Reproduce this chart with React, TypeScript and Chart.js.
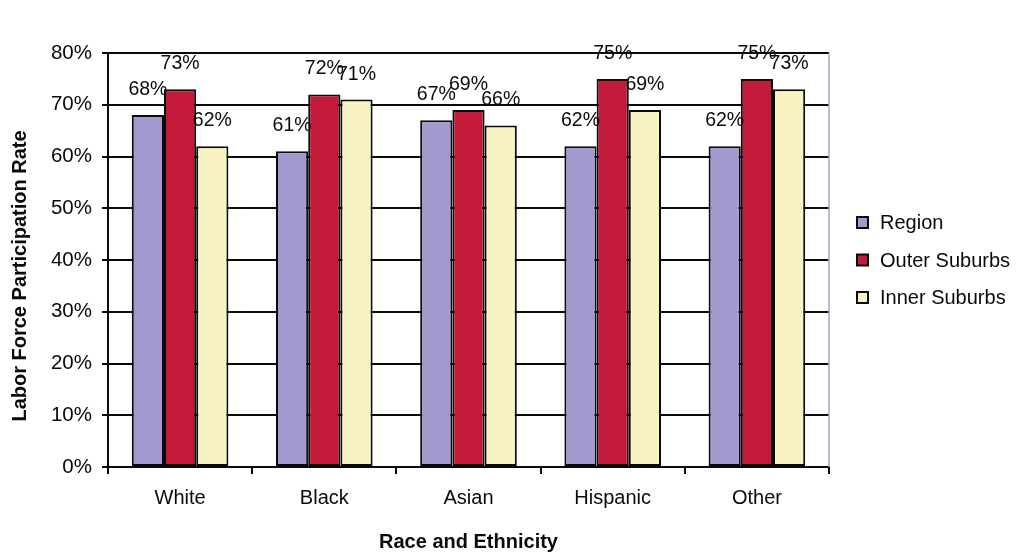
import React, { useEffect, useRef } from "react";
import { Chart, registerables } from "chart.js";

Chart.register(...registerables);

const categories = ["White", "Black", "Asian", "Hispanic", "Other"];
const regionValues = [68, 61, 67, 62, 62];
const outerSuburbValues = [73, 72, 69, 75, 75];
const innerSuburbValues = [62, 71, 66, 69, 73];
const seriesNames = ["Region", "Outer Suburbs", "Inner Suburbs"];
const seriesColors = ["#a399cf", "#c41a3a", "#f7f4c2"];
const yTicks = [0, 10, 20, 30, 40, 50, 60, 70, 80];

const FONT = "'Liberation Sans', Arial, Helvetica, sans-serif";
const INK = "#0a0a0a";

// Percentage labels above every bar
const valueLabels = {
  id: "valueLabels",
  afterDatasetsDraw(chart: any) {
    const ctx = chart.ctx;
    ctx.save();
    ctx.font = `19.5px ${FONT}`;
    ctx.fillStyle = INK;
    ctx.textAlign = "center";
    ctx.textBaseline = "alphabetic";
    chart.data.datasets.forEach((ds: any, i: number) => {
      const meta = chart.getDatasetMeta(i);
      meta.data.forEach((el: any, j: number) => {
        ctx.fillText(`${ds.data[j]}%`, el.x, el.y - 20);
      });
    });
    ctx.restore();
  },
};

// Right frame edge, vertical axis title and the legend to the right of the plot
const decorations = {
  id: "decorations",
  afterDraw(chart: any) {
    const ctx = chart.ctx;
    const area = chart.chartArea;
    ctx.save();

    ctx.strokeStyle = "#9ea6bd";
    ctx.lineWidth = 1.5;
    ctx.beginPath();
    ctx.moveTo(area.right, area.top);
    ctx.lineTo(area.right, area.bottom);
    ctx.stroke();

    ctx.font = `bold 20px ${FONT}`;
    ctx.fillStyle = INK;
    ctx.textAlign = "center";
    ctx.textBaseline = "middle";
    ctx.translate(20, chart.height / 2);
    ctx.rotate(-Math.PI / 2);
    ctx.fillText("Labor Force Participation Rate", 0, 0);
    ctx.setTransform(1, 0, 0, 1, 0, 0);

    const midY = (area.top + area.bottom) / 2;
    const rowGap = 37.5;
    const boxSize = 11;
    const boxX = area.right + 28;
    ctx.font = `20px ${FONT}`;
    ctx.textAlign = "left";
    chart.data.datasets.forEach((ds: any, i: number) => {
      const cy = midY + (i - (chart.data.datasets.length - 1) / 2) * rowGap;
      ctx.fillStyle = ds.backgroundColor;
      ctx.fillRect(boxX, cy - boxSize / 2, boxSize, boxSize);
      ctx.strokeStyle = INK;
      ctx.lineWidth = 2;
      ctx.strokeRect(boxX, cy - boxSize / 2, boxSize, boxSize);
      ctx.fillStyle = INK;
      ctx.fillText(ds.label, boxX + boxSize + 12, cy + 1);
    });
    ctx.restore();
  },
};

export default function App() {
  const canvasRef = useRef<HTMLCanvasElement | null>(null);

  useEffect(() => {
    if (!canvasRef.current) return;
    const seriesValues = [regionValues, outerSuburbValues, innerSuburbValues];
    const chart = new Chart(canvasRef.current, {
      type: "bar",
      data: {
        labels: categories,
        datasets: seriesValues.map((values, i) => ({
          label: seriesNames[i],
          data: values,
          backgroundColor: seriesColors[i],
          borderColor: INK,
          borderWidth: 2,
          borderSkipped: false,
          categoryPercentage: 0.67,
          barPercentage: 1,
        })),
      },
      options: {
        responsive: false,
        animation: false,
        events: [],
        layout: { padding: { top: 53, right: 192, left: 0, bottom: 0 } },
        plugins: {
          legend: { display: false },
          tooltip: { enabled: false },
        },
        scales: {
          x: {
            afterFit: (scale: any) => {
              scale.height = 85;
            },
            grid: {
              display: true,
              offset: true,
              drawOnChartArea: false,
              drawTicks: true,
              tickLength: 7,
              color: INK,
              lineWidth: 2,
            },
            border: { display: true, color: INK, width: 2 },
            ticks: {
              color: INK,
              font: { family: FONT, size: 20 },
              padding: 12,
            },
            title: {
              display: true,
              text: "Race and Ethnicity",
              color: INK,
              font: { family: FONT, size: 20, weight: "bold", lineHeight: 1 },
              padding: { top: 0, bottom: 0 },
            },
          },
          y: {
            min: 0,
            max: 80,
            afterFit: (scale: any) => {
              scale.width = 108;
            },
            afterBuildTicks: (scale: any) => {
              scale.ticks = yTicks.map((v) => ({ value: v }));
            },
            grid: {
              color: INK,
              lineWidth: 2,
              drawTicks: true,
              tickLength: 6,
            },
            border: { display: true, color: INK, width: 2 },
            ticks: {
              color: INK,
              font: { family: FONT, size: 20.5 },
              padding: 10,
              callback: (v: any) => `${v}%`,
            },
          },
        },
      },
      plugins: [valueLabels, decorations],
    } as any);
    return () => chart.destroy();
  }, []);

  return (
    <div
      style={{
        position: "absolute",
        left: 0,
        top: 0,
        width: 1021,
        height: 552,
        background: "#ffffff",
      }}
    >
      <canvas ref={canvasRef} width={1021} height={552} />
    </div>
  );
}
